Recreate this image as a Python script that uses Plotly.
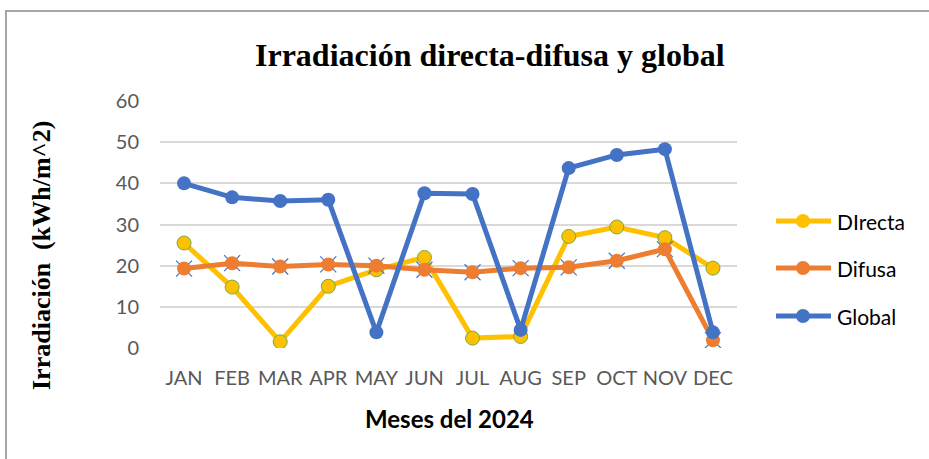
import plotly.graph_objects as go

months = ["JAN", "FEB", "MAR", "APR", "MAY", "JUN", "JUL", "AUG", "SEP", "OCT", "NOV", "DEC"]
directa = [25.5, 14.8, 1.5, 15.0, 19.0, 22.0, 2.4, 2.8, 27.1, 29.4, 26.8, 19.4]
difusa = [19.3, 20.6, 19.8, 20.3, 20.0, 19.0, 18.4, 19.4, 19.6, 21.2, 24.0, 1.9]
global_ = [40.0, 36.6, 35.7, 36.0, 3.8, 37.6, 37.4, 4.4, 43.7, 46.9, 48.3, 3.8]
y_ticks = [0, 10, 20, 30, 40, 50, 60]
series_names = ["DIrecta", "Difusa", "Global"]

YELLOW = "#FFC000"
ORANGE = "#ED7D31"
BLUE = "#4472C4"
SANS = "Lato, Calibri, sans-serif"
SERIF = "Liberation Serif, Times New Roman, serif"

fig = go.Figure()

fig.add_trace(go.Scatter(
    x=months, y=directa, name=series_names[0], mode="lines+markers",
    line=dict(color=YELLOW, width=5),
    marker=dict(color=YELLOW, size=14, line=dict(color="#70AD47", width=1)),
))
fig.add_trace(go.Scatter(
    x=months, y=difusa, mode="markers", showlegend=False, hoverinfo="skip",
    marker=dict(symbol="x-thin", size=16, line=dict(color=BLUE, width=1.2)),
))
fig.add_trace(go.Scatter(
    x=months, y=difusa, name=series_names[1], mode="lines+markers",
    line=dict(color=ORANGE, width=5),
    marker=dict(color=ORANGE, size=14),
))
fig.add_trace(go.Scatter(
    x=months, y=global_, name=series_names[2], mode="lines+markers",
    line=dict(color=BLUE, width=5),
    marker=dict(color=BLUE, size=14),
))

W, H = 929, 459
L, R, T, B = 160, 192, 101, 111
pw, ph = W - L - R, H - T - B

def px(x):
    return (x - L) / pw

def py(y):
    return (H - B - y) / ph

shapes = [
    dict(type="line", xref="paper", yref="paper", x0=px(5), x1=px(935), y0=py(11), y1=py(11),
         line=dict(color="#A6A6A6", width=2)),
    dict(type="line", xref="paper", yref="paper", x0=px(6), x1=px(6), y0=py(11), y1=py(465),
         line=dict(color="#A6A6A6", width=2)),
]
annotations = [
    dict(text="<b>Irradiación directa-difusa y global</b>", xref="paper", yref="paper",
         x=px(490), y=py(55), showarrow=False, xanchor="center", yanchor="middle",
         font=dict(family=SERIF, size=32, color="#000000")),
    dict(text="<b>Irradiación  (kWh/m^2)</b>", xref="paper", yref="paper",
         x=px(41), y=py(256), showarrow=False, textangle=-90,
         xanchor="center", yanchor="middle",
         font=dict(family=SERIF, size=26, color="#000000")),
    dict(text="<b>Meses del 2024</b>", xref="paper", yref="paper",
         x=px(449), y=py(418), showarrow=False, xanchor="center", yanchor="middle",
         font=dict(family=SANS, size=24, color="#000000")),
]

legend_colors = [YELLOW, ORANGE, BLUE]
legend_y = [221, 268, 316]
for name, col, ly in zip(series_names, legend_colors, legend_y):
    shapes.append(dict(type="line", xref="paper", yref="paper", x0=px(776), x1=px(831),
                       y0=py(ly), y1=py(ly), line=dict(color=col, width=5)))
    shapes.append(dict(type="circle", xref="paper", yref="paper", x0=px(796), x1=px(810),
                       y0=py(ly + 7), y1=py(ly - 7), fillcolor=col, line=dict(color=col, width=0)))
    annotations.append(dict(text=name, xref="paper", yref="paper", x=px(835), y=py(ly),
                            showarrow=False, xanchor="left", yanchor="middle",
                            font=dict(family=SANS, size=21, color="#000000")))

fig.update_layout(
    width=W, height=H,
    margin=dict(l=L, r=R, t=T, b=B),
    paper_bgcolor="white", plot_bgcolor="white",
    showlegend=False,
    xaxis=dict(
        type="category", range=[-0.5, 11.5], showgrid=False, zeroline=False, showline=False,
        tickfont=dict(family=SANS, size=20, color="#595959"),
        ticks="outside", ticklen=12, tickcolor="white",
    ),
    yaxis=dict(
        range=[0, 60], tickvals=y_ticks, showgrid=True, gridcolor="#D9D9D9", gridwidth=1.5,
        zeroline=False, showline=False,
        tickfont=dict(family=SANS, size=20, color="#595959"),
        ticks="outside", ticklen=16, tickcolor="white",
    ),
    annotations=annotations,
    shapes=shapes,
)

fig.write_html("out.html", config={"displayModeBar": False},
               post_script="document.body.style.margin='0';")
